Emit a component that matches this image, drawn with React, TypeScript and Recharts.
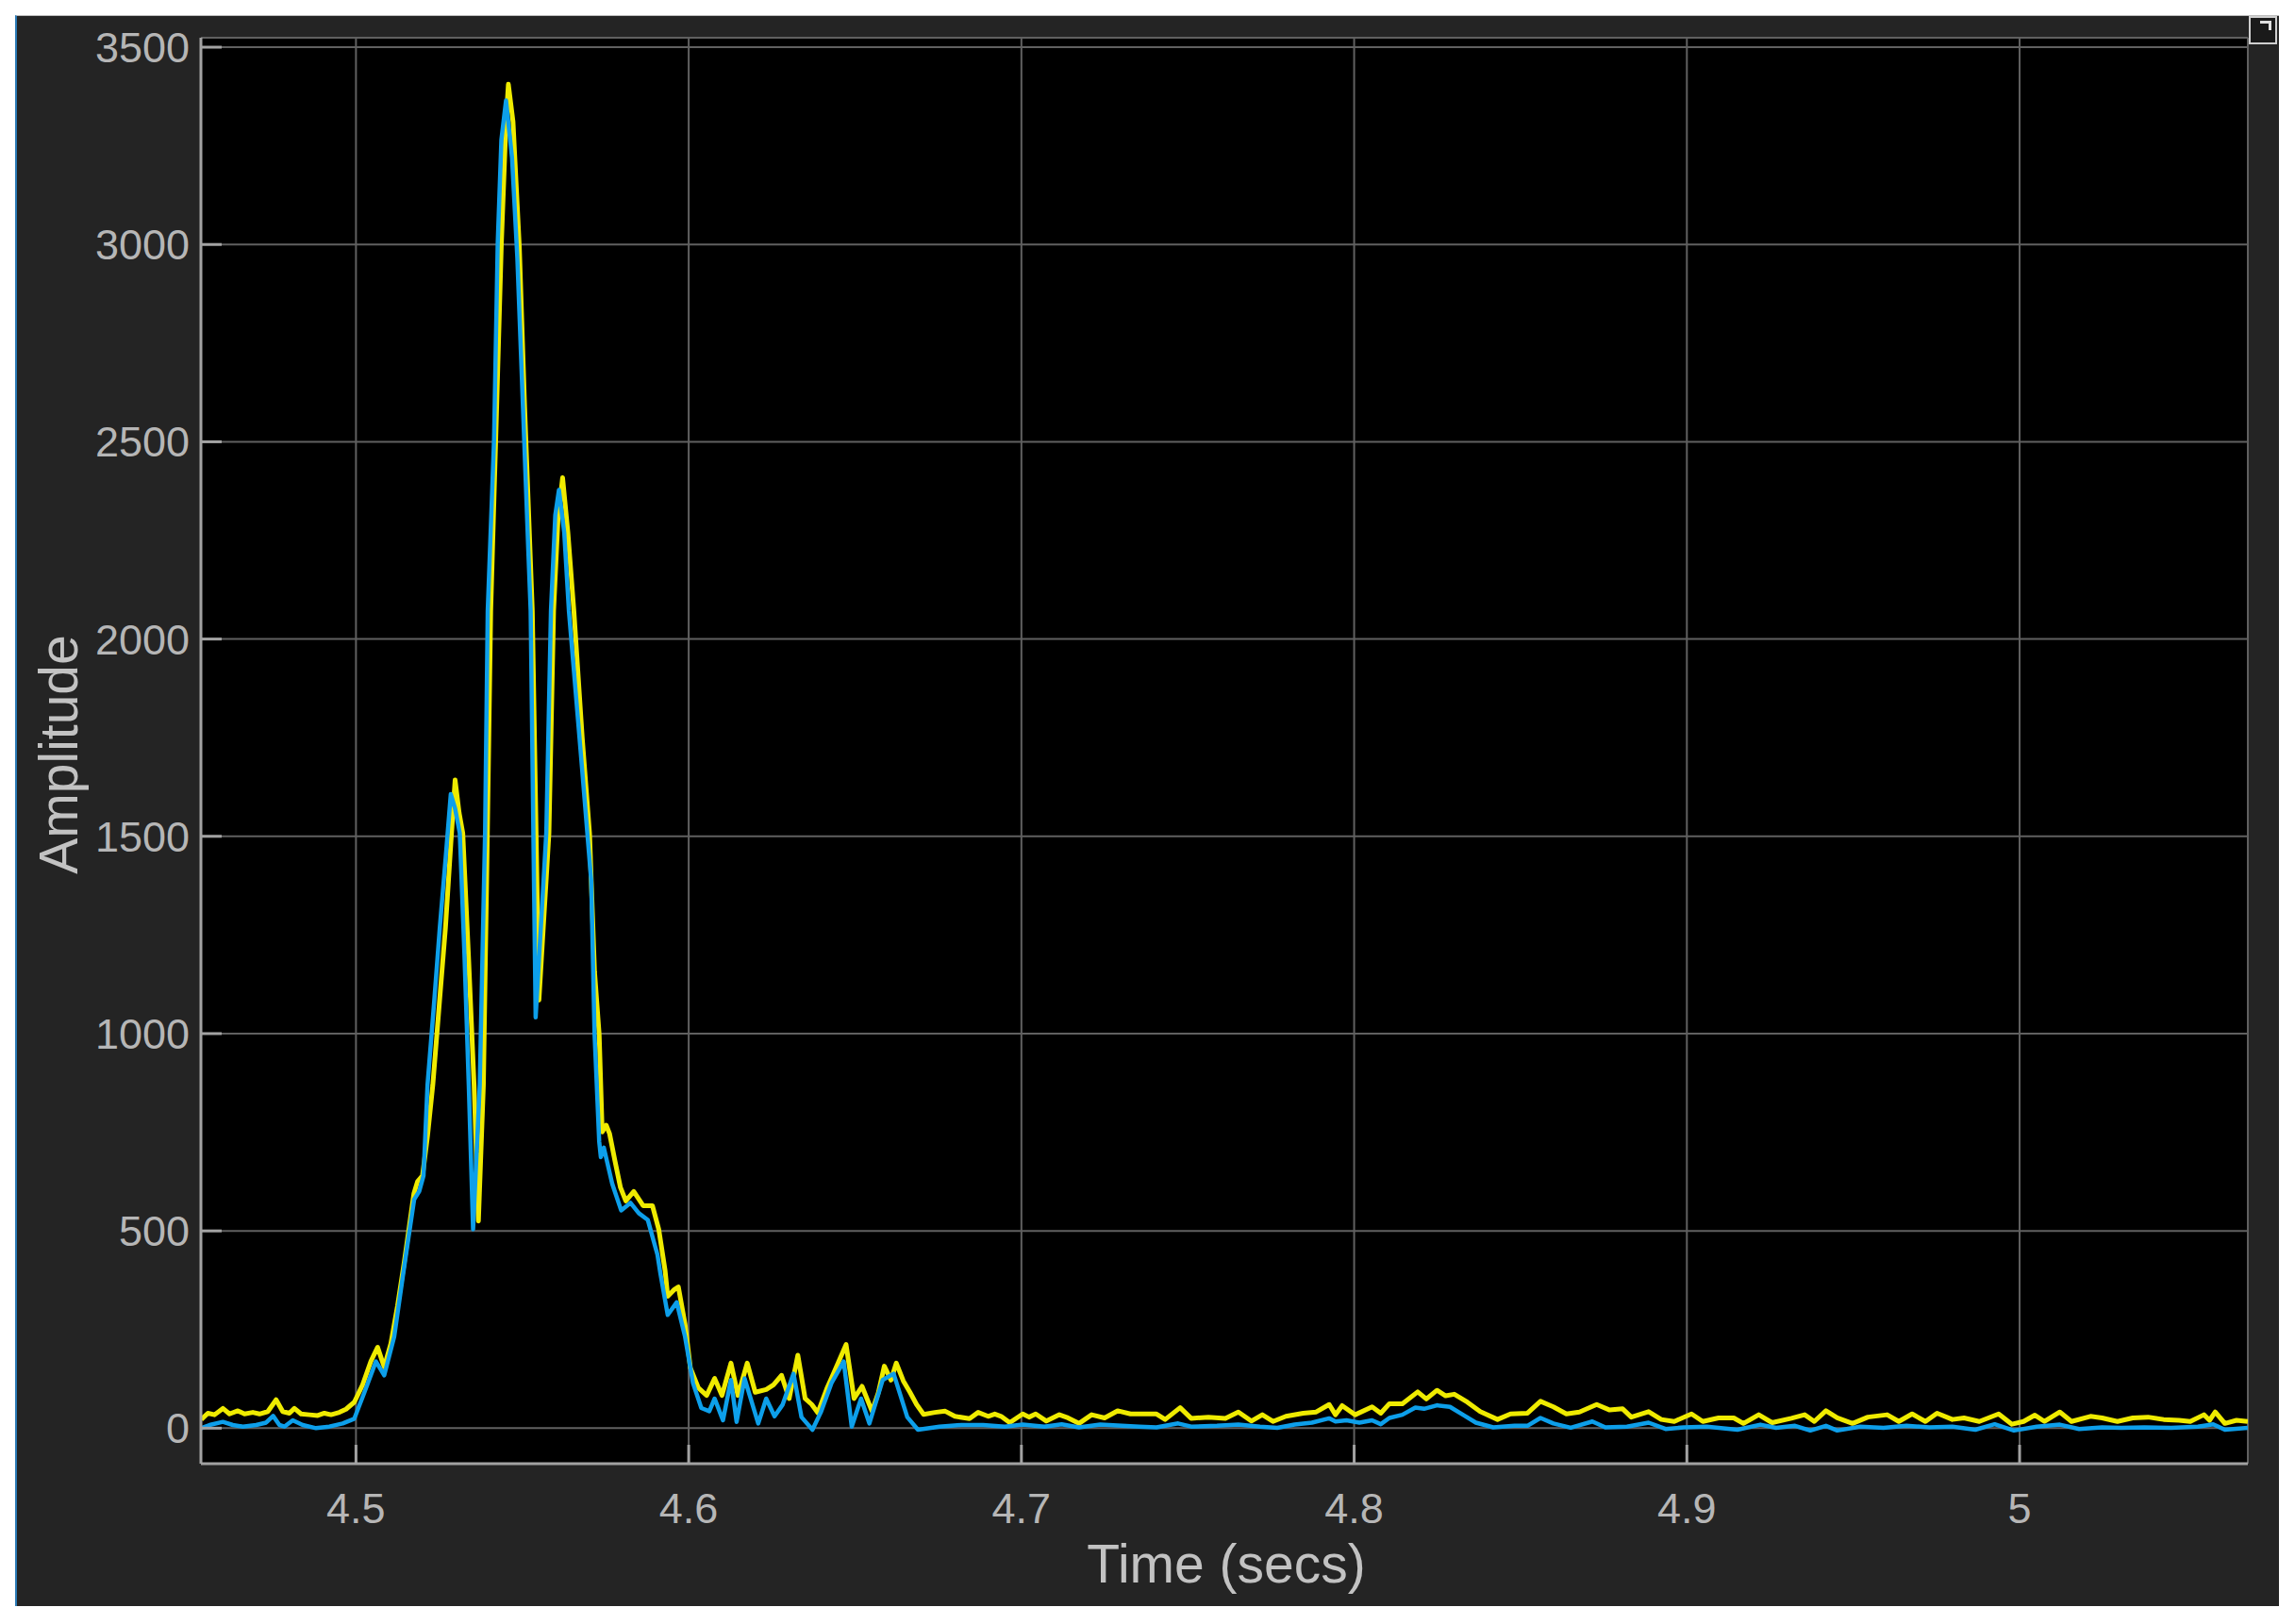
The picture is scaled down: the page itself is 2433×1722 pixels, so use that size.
import React from 'react';
import { LineChart, Line, XAxis, YAxis, CartesianGrid, Label } from 'recharts';

const X_DOMAIN: [number, number] = [4.4534, 5.0686];
const Y_DOMAIN: [number, number] = [-90, 3524];

const xTicks = [4.5, 4.6, 4.7, 4.8, 4.9, 5];
const xTickLabels = ['4.5', '4.6', '4.7', '4.8', '4.9', '5'];
const yTicks = [0, 500, 1000, 1500, 2000, 2500, 3000, 3500];
const yTickLabels = ['0', '500', '1000', '1500', '2000', '2500', '3000', '3500'];

const xTitle = 'Time (secs)';
const yTitle = 'Amplitude';

// Yellow trace
const yellowTime = [
  4.4535, 4.4555, 4.4575, 4.46, 4.462, 4.4645, 4.4665, 4.469, 4.471, 4.4735,
  4.476, 4.478, 4.48, 4.4815, 4.4835, 4.486, 4.4885, 4.4905, 4.4925, 4.495,
  4.497, 4.4995, 4.502, 4.5045, 4.5065, 4.5085, 4.5105, 4.5125, 4.5145, 4.516,
  4.5174, 4.5185, 4.52, 4.5215, 4.5231, 4.525, 4.5269, 4.5285, 4.5298, 4.531,
  4.5321, 4.5338, 4.5355, 4.5368, 4.5383, 4.5395, 4.5405, 4.542, 4.5437, 4.5451,
  4.5458, 4.5472, 4.5491, 4.5507, 4.553, 4.555, 4.558, 4.5594, 4.5607, 4.5621,
  4.5637, 4.5655, 4.568, 4.5702, 4.5717, 4.5731, 4.574, 4.5752, 4.5762, 4.5778,
  4.5795, 4.5811, 4.5835, 4.5863, 4.5891, 4.591, 4.5929, 4.5937, 4.5955, 4.5969,
  4.5989, 4.6005, 4.6029, 4.6054, 4.6078, 4.61, 4.6127, 4.6148, 4.6176, 4.62,
  4.6233, 4.6255, 4.6279, 4.6302, 4.6328, 4.635, 4.637, 4.6388, 4.6415, 4.6437,
  4.6473, 4.6497, 4.6521, 4.6551, 4.657, 4.6588, 4.6608, 4.6624, 4.6645, 4.6665,
  4.6685, 4.6706, 4.674, 4.6771, 4.68, 4.6844, 4.687, 4.69, 4.692, 4.6939,
  4.6965, 4.7004, 4.7023, 4.7043, 4.7075, 4.7114, 4.714, 4.7173, 4.7211, 4.725,
  4.7289, 4.7328, 4.7367, 4.7406, 4.7432, 4.7477, 4.751, 4.7562, 4.7613, 4.7652,
  4.7691, 4.7724, 4.7756, 4.7795, 4.7847, 4.7886, 4.7925, 4.7944, 4.7964, 4.8003,
  4.8054, 4.808, 4.8106, 4.8145, 4.8191, 4.8217, 4.8249, 4.8275, 4.8301, 4.834,
  4.8379, 4.8431, 4.847, 4.8521, 4.856, 4.8599, 4.8638, 4.8677, 4.8729, 4.8768,
  4.8807, 4.8833, 4.8885, 4.8923, 4.8962, 4.9014, 4.9048, 4.9095, 4.9141, 4.917,
  4.9216, 4.9256, 4.9314, 4.9354, 4.9383, 4.9418, 4.9452, 4.9498, 4.9544, 4.9602,
  4.9637, 4.9677, 4.9717, 4.9752, 4.9798, 4.9833, 4.9879, 4.9937, 4.9977, 5.0012,
  5.0046, 5.0075, 5.0121, 5.0156, 5.0213, 5.0248, 5.0294, 5.034, 5.0386, 5.0433,
  5.0479, 5.0513, 5.0554, 5.0571, 5.0588, 5.0617, 5.0652, 5.0686,
];
const yellowAmp = [
  22, 38, 34, 50, 36, 44, 36, 40, 36, 42,
  72, 42, 38, 50, 36, 34, 32, 38, 34, 40,
  48, 66, 110, 170, 205, 155, 215, 310, 420, 510,
  594, 625, 640, 740, 870, 1070, 1269, 1480, 1643, 1560,
  1508, 1200, 870, 525, 870, 1508, 2071, 2505, 3003, 3311,
  3406, 3311, 2994, 2586, 2071, 1085, 1508, 2071, 2300, 2409,
  2269, 2071, 1750, 1508, 1157, 997, 751, 768, 747, 679,
  610, 576, 600, 564, 564, 504, 400, 334, 350, 358,
  264, 153, 102, 83, 126, 83, 165, 83, 165, 91,
  98, 110, 134, 75, 185, 75, 60, 39, 100, 142,
  212, 75, 106, 43, 90, 157, 122, 165, 120, 91,
  60, 35, 40, 43, 30, 24, 40, 30, 36, 30,
  14, 36, 28, 36, 18, 34, 26, 12, 34, 26,
  44, 36, 36, 36, 22, 52, 25, 28, 25, 41,
  18, 34, 17, 30, 38, 41, 60, 34, 57, 34,
  54, 38, 62, 62, 92, 74, 96, 82, 86, 66,
  42, 22, 36, 38, 68, 54, 36, 41, 60, 46,
  49, 28, 42, 22, 17, 36, 17, 26, 26, 12,
  34, 14, 25, 34, 17, 44, 26, 12, 28, 34,
  17, 36, 17, 38, 22, 26, 17, 36, 10, 17,
  33, 17, 41, 17, 30, 26, 17, 26, 28, 22,
  20, 17, 34, 20, 41, 12, 20, 17,
];

// Blue trace
const blueTime = [
  4.4535, 4.456, 4.46, 4.463, 4.466, 4.47, 4.473, 4.4751, 4.477, 4.4785,
  4.481, 4.484, 4.488, 4.492, 4.496, 4.4995, 4.5025, 4.506, 4.5085, 4.5115,
  4.514, 4.5158, 4.5175, 4.519, 4.5203, 4.5215, 4.5235, 4.5252, 4.527, 4.5285,
  4.5298, 4.5312, 4.5326, 4.5339, 4.5352, 4.5372, 4.5388, 4.5396, 4.5415, 4.5426,
  4.5437, 4.5451, 4.5469, 4.5485, 4.5502, 4.5518, 4.5525, 4.554, 4.5572, 4.5586,
  4.5599, 4.561, 4.5626, 4.564, 4.568, 4.5707, 4.5717, 4.5731, 4.5736, 4.5745,
  4.577, 4.5797, 4.5825, 4.585, 4.5877, 4.5906, 4.5915, 4.5937, 4.5964, 4.5989,
  4.6013, 4.6038, 4.6062, 4.6078, 4.6103, 4.6127, 4.6144, 4.6168, 4.6209, 4.6233,
  4.6258, 4.6282, 4.6315, 4.6339, 4.6372, 4.6397, 4.6429, 4.6466, 4.649, 4.6518,
  4.6543, 4.6583, 4.6616, 4.6657, 4.6689, 4.6754, 4.6819, 4.6885, 4.695, 4.7004,
  4.7069, 4.7121, 4.7173, 4.7237, 4.7302, 4.7354, 4.7406, 4.7471, 4.751, 4.7588,
  4.7652, 4.7717, 4.7769, 4.7821, 4.7873, 4.7925, 4.7944, 4.7977, 4.8016, 4.8054,
  4.808, 4.8106, 4.8145, 4.8184, 4.821, 4.8249, 4.8288, 4.8327, 4.8366, 4.8418,
  4.8482, 4.8521, 4.856, 4.8599, 4.8651, 4.8716, 4.8755, 4.882, 4.8885, 4.8936,
  4.8991, 4.906, 4.9152, 4.9221, 4.9268, 4.9325, 4.9371, 4.9418, 4.9452, 4.9521,
  4.9591, 4.966, 4.9729, 4.9798, 4.9867, 4.9925, 4.9983, 5.0052, 5.0121, 5.0179,
  5.0248, 5.0306, 5.0375, 5.0456, 5.0536, 5.0582, 5.0617, 5.0686,
];
const blueAmp = [
  0, 8, 16, 8, 4, 8, 14, 31, 8, 4,
  20, 8, 0, 4, 12, 24, 90, 169, 134, 232,
  380, 484, 580, 600, 640, 870, 1080, 1269, 1450, 1607,
  1570, 1508, 1200, 870, 504, 870, 1508, 2071, 2505, 3003,
  3265, 3365, 3220, 2966, 2586, 2224, 2071, 1041, 1508, 2071,
  2314, 2378, 2269, 2071, 1667, 1388, 1000, 727, 687, 711,
  620, 552, 571, 545, 528, 440, 392, 287, 319, 232,
  114, 51, 43, 75, 20, 122, 16, 126, 12, 75,
  30, 59, 138, 28, -4, 40, 114, 169, 4, 75,
  12, 122, 138, 28, -4, 4, 8, 8, 4, 9,
  4, 10, 2, 9, 6, 4, 2, 12, 4, 6,
  9, 4, 1, 9, 14, 25, 17, 20, 14, 20,
  10, 26, 34, 52, 49, 58, 54, 34, 14, 2,
  6, 6, 26, 12, 1, 17, 2, 4, 14, -2,
  2, 4, -4, 9, 1, 6, -6, 6, -6, 4,
  1, 6, 2, 4, -4, 10, -6, 4, 9, -2,
  2, 1, 2, 1, 4, 10, -4, 1,
];

const yellowData = yellowTime.map((t, i) => ({ t, v: yellowAmp[i] }));
const blueData = blueTime.map((t, i) => ({ t, v: blueAmp[i] }));

const FONT = "'Liberation Sans', Arial, Helvetica, sans-serif";
const AXIS_COLOR = '#a2a2a2';
const LABEL_COLOR = '#b6b6b6';
const TITLE_COLOR = '#c2c2c2';
const GRID_COLOR = '#606060';
const YELLOW = '#efeb00';
const BLUE = '#0d9fea';

const LeftTick = (props: any) => {
  const { x, y, payload } = props;
  const idx = yTicks.indexOf(payload.value);
  return (
    <g>
      <line x1={x + 12} x2={x + 34} y1={y} y2={y} stroke={AXIS_COLOR} strokeWidth={3} />
      <text x={x} y={y + 16} textAnchor="end" fill={LABEL_COLOR} fontSize={45} fontFamily={FONT}>
        {idx >= 0 ? yTickLabels[idx] : String(payload.value)}
      </text>
    </g>
  );
};

const RightTick = (props: any) => {
  const { x, y } = props;
  return <line x1={x} x2={x - 22} y1={y} y2={y} stroke={AXIS_COLOR} strokeWidth={3} />;
};

const BottomTick = (props: any) => {
  const { x, y, payload } = props;
  const idx = xTicks.indexOf(payload.value);
  return (
    <g>
      <line x1={x} x2={x} y1={y} y2={y - 20} stroke={AXIS_COLOR} strokeWidth={3} />
      <text x={x} y={y + 63} textAnchor="middle" fill={LABEL_COLOR} fontSize={45} fontFamily={FONT}>
        {idx >= 0 ? xTickLabels[idx] : String(payload.value)}
      </text>
    </g>
  );
};

const TopTick = (props: any) => {
  const { x, y } = props;
  return <line x1={x} x2={x} y1={y} y2={y + 20} stroke={AXIS_COLOR} strokeWidth={3} />;
};

const YTitle = (props: any) => {
  const vb = props.viewBox || { x: 13, y: 40, width: 200, height: 1512 };
  const cx = vb.x + 69;
  const cy = vb.y + vb.height / 2 + 4;
  return (
    <text
      transform={`translate(${cx}, ${cy}) rotate(-90)`}
      x={0}
      y={0}
      textAnchor="middle"
      fill={TITLE_COLOR}
      fontSize={57}
      fontFamily={FONT}
    >
      {yTitle}
    </text>
  );
};

const XTitle = (props: any) => {
  const vb = props.viewBox || { x: 213, y: 1552, width: 2170, height: 150 };
  return (
    <text
      x={vb.x + vb.width / 2 + 2}
      y={vb.y + 126}
      textAnchor="middle"
      fill={TITLE_COLOR}
      fontSize={57}
      fontFamily={FONT}
    >
      {xTitle}
    </text>
  );
};

export default function App() {
  return (
    <div
      style={{
        position: 'absolute',
        left: 0,
        top: 0,
        width: 2433,
        height: 1722,
        background: '#ffffff',
        overflow: 'hidden',
      }}
    >
      <div
        style={{
          position: 'absolute',
          left: 16,
          top: 16,
          width: 2400,
          height: 1687,
          background: '#242424',
          borderLeft: '2px solid #2a7ab6',
          borderTop: '1px solid #bdbdbd',
          boxSizing: 'border-box',
        }}
      />
      <div
        style={{
          position: 'absolute',
          left: 2384,
          top: 17,
          width: 30,
          height: 30,
          background: '#1a1a1a',
          border: '2px solid #cfcfcf',
          boxSizing: 'border-box',
        }}
      >
        <div
          style={{
            position: 'absolute',
            left: 10,
            top: 3,
            width: 12,
            height: 10,
            borderTop: '3px solid #e0e0e0',
            borderRight: '3px solid #e0e0e0',
            boxSizing: 'border-box',
          }}
        />
      </div>
      <div style={{ position: 'absolute', left: 0, top: 0 }}>
        <LineChart width={2433} height={1722} margin={{ top: 40, right: 50, bottom: 20, left: 13 }}>
          <CartesianGrid
            stroke={GRID_COLOR}
            strokeWidth={2}
            fill="#000000"
            fillOpacity={1}
            horizontal
            vertical
          />
          <XAxis
            dataKey="t"
            type="number"
            domain={X_DOMAIN}
            allowDataOverflow
            ticks={xTicks}
            interval={0}
            height={150}
            tickSize={0}
            tickMargin={0}
            tickLine={false}
            axisLine={{ stroke: AXIS_COLOR, strokeWidth: 3 }}
            tick={(p: any) => <BottomTick {...p} />}
          >
            <Label content={(p: any) => <XTitle {...p} />} />
          </XAxis>
          <XAxis
            xAxisId="top"
            orientation="top"
            dataKey="t"
            type="number"
            domain={X_DOMAIN}
            allowDataOverflow
            ticks={xTicks}
            interval={0}
            height={0}
            tickSize={0}
            tickMargin={0}
            tickLine={false}
            axisLine={{ stroke: AXIS_COLOR, strokeWidth: 3 }}
            tick={(p: any) => <TopTick {...p} />}
          />
          <YAxis
            type="number"
            domain={Y_DOMAIN}
            allowDataOverflow
            ticks={yTicks}
            interval={0}
            width={200}
            tickSize={0}
            tickMargin={12}
            tickLine={false}
            axisLine={{ stroke: AXIS_COLOR, strokeWidth: 3 }}
            tick={(p: any) => <LeftTick {...p} />}
          >
            <Label content={(p: any) => <YTitle {...p} />} />
          </YAxis>
          <YAxis
            yAxisId="right"
            orientation="right"
            type="number"
            domain={Y_DOMAIN}
            allowDataOverflow
            ticks={yTicks}
            interval={0}
            width={0}
            tickSize={0}
            tickMargin={0}
            tickLine={false}
            axisLine={{ stroke: AXIS_COLOR, strokeWidth: 3 }}
            tick={(p: any) => <RightTick {...p} />}
          />
          <Line
            data={yellowData}
            dataKey="v"
            type="linear"
            stroke={YELLOW}
            strokeWidth={5}
            dot={false}
            activeDot={false}
            isAnimationActive={false}
            strokeLinejoin="round"
          />
          <Line
            data={blueData}
            dataKey="v"
            type="linear"
            stroke={BLUE}
            strokeWidth={4.5}
            dot={false}
            activeDot={false}
            isAnimationActive={false}
            strokeLinejoin="round"
          />
        </LineChart>
      </div>
    </div>
  );
}
